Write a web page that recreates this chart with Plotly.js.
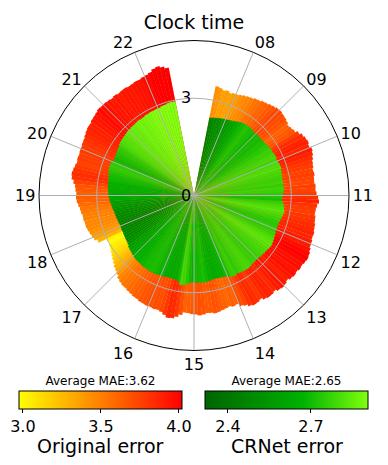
<!DOCTYPE html>
<html>
<head>
<meta charset="utf-8">
<script src="https://cdn.plot.ly/plotly-3.0.1.min.js"></script>
<style>html,body{margin:0;padding:0;background:#fff;}#chart{width:388px;height:465px;}</style>
</head>
<body>
<div id="chart"></div>
<script>
// ---- data ----
// 5-minute bins from 07:30 to 22:30 (one row per hour)
const binStart = 7.5;
const binMinutes = 5;
const originalError = [
  3.44, 3.41, 3.37, 3.39, 3.35, 3.38,
  3.39, 3.42, 3.45, 3.48, 3.50, 3.54, 3.56, 3.60, 3.62, 3.66, 3.69, 3.72,
  3.73, 3.71, 3.69, 3.66, 3.62, 3.65, 3.68, 3.76, 3.83, 3.87, 3.89, 3.86,
  3.91, 3.88, 3.84, 3.80, 3.78, 3.75, 3.77, 3.74, 3.73, 3.76, 3.75, 3.78,
  3.83, 3.86, 3.81, 3.78, 3.77, 3.80, 3.81, 3.84, 3.85, 3.88, 3.87, 3.90,
  3.91, 3.95, 3.99, 4.01, 3.99, 3.96, 3.97, 3.94, 3.96, 3.93, 3.88, 3.92,
  3.94, 3.91, 3.85, 3.88, 3.89, 3.86, 3.80, 3.83, 3.85, 3.81, 3.74, 3.70,
  3.61, 3.63, 3.59, 3.62, 3.64, 3.67, 3.69, 3.66, 3.65, 3.68, 3.70, 3.67,
  3.66, 3.63, 3.62, 3.70, 3.78, 3.84, 3.86, 3.79, 3.73, 3.70, 3.71, 3.69,
  3.70, 3.68, 3.67, 3.64, 3.63, 3.60, 3.58, 3.55, 3.54, 3.51, 3.47, 3.40,
  3.34, 3.30, 3.24, 3.19, 3.14, 3.10, 3.06, 3.04, 2.99, 3.02, 3.28, 3.36,
  3.39, 3.42, 3.45, 3.47, 3.47, 3.49, 3.49, 3.52, 3.54, 3.58, 3.62, 3.64,
  3.63, 3.66, 3.68, 3.74, 3.81, 3.83, 3.81, 3.78, 3.75, 3.77, 3.76, 3.78,
  3.78, 3.80, 3.81, 3.84, 3.87, 3.89, 3.89, 3.92, 3.93, 3.95, 3.98, 3.96,
  3.96, 3.94, 3.92, 3.94, 3.91, 3.93, 3.94, 3.92, 3.93, 3.95, 3.95, 3.98,
  3.99, 4.03, 4.10, 4.13, 4.08, 4.02
];
const crnetError = [
  2.45, 2.47, 2.49, 2.51, 2.52, 2.54,
  2.55, 2.57, 2.59, 2.62, 2.65, 2.68, 2.70, 2.72, 2.73, 2.71, 2.71, 2.69,
  2.70, 2.71, 2.70, 2.72, 2.72, 2.74, 2.75, 2.77, 2.77, 2.79, 2.80, 2.78,
  2.80, 2.81, 2.82, 2.80, 2.79, 2.78, 2.77, 2.78, 2.76, 2.78, 2.77, 2.75,
  2.73, 2.71, 2.76, 2.79, 2.81, 2.83, 2.81, 2.79, 2.77, 2.75, 2.74, 2.75,
  2.75, 2.77, 2.79, 2.81, 2.83, 2.84, 2.83, 2.81, 2.80, 2.79, 2.78, 2.77,
  2.76, 2.77, 2.77, 2.79, 2.80, 2.79, 2.78, 2.77, 2.75, 2.77, 2.76, 2.72,
  2.69, 2.67, 2.66, 2.65, 2.64, 2.66, 2.67, 2.69, 2.71, 2.70, 2.69, 2.70,
  2.67, 2.70, 2.74, 2.78, 2.79, 2.70, 2.65, 2.66, 2.64, 2.65, 2.66, 2.68,
  2.68, 2.69, 2.70, 2.71, 2.71, 2.70, 2.70, 2.69, 2.68, 2.67, 2.67, 2.65,
  2.63, 2.61, 2.59, 2.57, 2.53, 2.51, 2.50, 2.49, 2.48, 2.47, 2.47, 2.46,
  2.46, 2.47, 2.48, 2.49, 2.50, 2.51, 2.53, 2.55, 2.57, 2.59, 2.61, 2.63,
  2.64, 2.65, 2.66, 2.67, 2.67, 2.69, 2.70, 2.71, 2.73, 2.75, 2.76, 2.75,
  2.71, 2.70, 2.72, 2.73, 2.75, 2.76, 2.79, 2.81, 2.82, 2.83, 2.84, 2.85,
  2.85, 2.86, 2.86, 2.87, 2.88, 2.87, 2.88, 2.89, 2.89, 2.90, 2.90, 2.91,
  2.91, 2.93, 2.94, 2.96, 2.97, 2.96
];
const hourTicks = [8, 9, 10, 11, 12, 13, 14, 15, 16, 17, 18, 19, 20, 21, 22];
const hourLabels = ['08','09','10','11','12','13','14','15','16','17','18','19','20','21','22'];
const radialTicks = [0, 3];
const origTicks = [3.0, 3.5, 4.0];
const crnetTicks = [2.4, 2.7];
const origAvg = 'Average MAE:3.62';
const crnetAvg = 'Average MAE:2.65';

// ---- scales ----
// 16-hour dial (07:00 at top), 22.5 degrees per hour
const dialStart = 7, degPerHour = 22.5;
const toDeg = h => (h - dialStart) * degPerHour;
const binCentres = originalError.map((_, i) => binStart + (i + 0.5) * binMinutes / 60);
const thetas = binCentres.map(toDeg);
const barWidth = binMinutes / 60 * degPerHour * 1.08;
const rMax = 4.78;
const FONT = 'DejaVu Sans, sans-serif';

const autumnR = [[0, 'rgb(255,255,0)'], [1, 'rgb(255,0,0)']];
const greens = [[0, 'rgb(0,100,0)'], [0.6, 'rgb(0,178,0)'], [1, 'rgb(128,255,16)']];

const cbCommon = {
  orientation: 'h', xanchor: 'center', yanchor: 'top', y: 0.19,
  lenmode: 'pixels', len: 163, thicknessmode: 'pixels', thickness: 18,
  outlinewidth: 1, outlinecolor: '#000', xpad: 0, ypad: 0,
  ticks: 'outside', ticklen: 4, tickcolor: '#000', tickformat: '.1f',
  tickfont: {family: FONT, size: 16, color: '#000'}
};

const traces = [
  {
    type: 'barpolar', subplot: 'polar', r: originalError, theta: thetas, width: barWidth,
    marker: {
      color: originalError, colorscale: autumnR, cmin: 2.975, cmax: 4.02,
      line: {width: 0}, showscale: true,
      colorbar: Object.assign({}, cbCommon, {x: 100.5 / 388, tickvals: origTicks,
        title: {text: origAvg, side: 'top', font: {family: FONT, size: 12, color: '#000'}}})
    },
    hoverinfo: 'skip'
  },
  {
    type: 'barpolar', subplot: 'polar', r: crnetError, theta: thetas, width: barWidth,
    marker: {
      color: crnetError, colorscale: greens, cmin: 2.317, cmax: 2.906,
      line: {width: 0}, showscale: true,
      colorbar: Object.assign({}, cbCommon, {x: 286.5 / 388, tickvals: crnetTicks,
        title: {text: crnetAvg, side: 'top', font: {family: FONT, size: 12, color: '#000'}}})
    },
    hoverinfo: 'skip'
  },
  {
    type: 'scatterpolar', subplot: 'polar2', r: [0], theta: [0], mode: 'markers',
    marker: {opacity: 0}, hoverinfo: 'skip', showlegend: false
  }
];

const cx = 194, cy = 195.5, R = 155, W = 388, H = 465;
const domain = {x: [(cx - R) / W, (cx + R) / W], y: [(H - cy - R) / H, (H - cy + R) / H]};

const layout = {
  width: W, height: H,
  margin: {l: 0, r: 0, t: 0, b: 0},
  paper_bgcolor: '#fff',
  showlegend: false,
  font: {family: FONT, color: '#000'},
  title: {text: 'Clock time', x: 0.5, xanchor: 'center', y: 1 - 22 / H, yanchor: 'middle',
          font: {family: FONT, size: 19, color: '#000'}},
  polar: {
    domain: domain, bgcolor: '#fff', hole: 0, barmode: 'overlay', bargap: 0,
    angularaxis: {direction: 'clockwise', rotation: 90, thetaunit: 'degrees',
      showgrid: false, showticklabels: false, showline: false, ticks: ''},
    radialaxis: {range: [0, rMax], visible: false}
  },
  polar2: {
    domain: domain, bgcolor: 'rgba(0,0,0,0)',
    angularaxis: {direction: 'clockwise', rotation: 90, thetaunit: 'degrees',
      tickmode: 'array', tickvals: hourTicks.map(toDeg), ticktext: hourLabels,
      showgrid: true, gridcolor: '#b0b0b0', gridwidth: 1,
      showline: true, linecolor: '#000', linewidth: 1, ticks: '',
      tickfont: {family: FONT, size: 16, color: '#000'}},
    radialaxis: {range: [0, rMax], angle: 90, side: 'counterclockwise', tickangle: 90,
      tickmode: 'array', tickvals: radialTicks,
      ticktext: radialTicks.map(String), showline: false, ticks: '',
      showgrid: true, gridcolor: '#b0b0b0', gridwidth: 1,
      tickfont: {family: FONT, size: 16, color: '#000'}, layer: 'above traces'}
  },
  annotations: [
    {text: 'Original error', xref: 'paper', yref: 'paper', x: 100.5 / W, y: (H - 446) / H,
     xanchor: 'center', yanchor: 'middle', showarrow: false, font: {family: FONT, size: 19, color: '#000'}},
    {text: 'CRNet error', xref: 'paper', yref: 'paper', x: 286.5 / W, y: (H - 446) / H,
     xanchor: 'center', yanchor: 'middle', showarrow: false, font: {family: FONT, size: 19, color: '#000'}}
  ]
};

Plotly.newPlot('chart', traces, layout, {staticPlot: true, displayModeBar: false});
</script>
</body>
</html>
